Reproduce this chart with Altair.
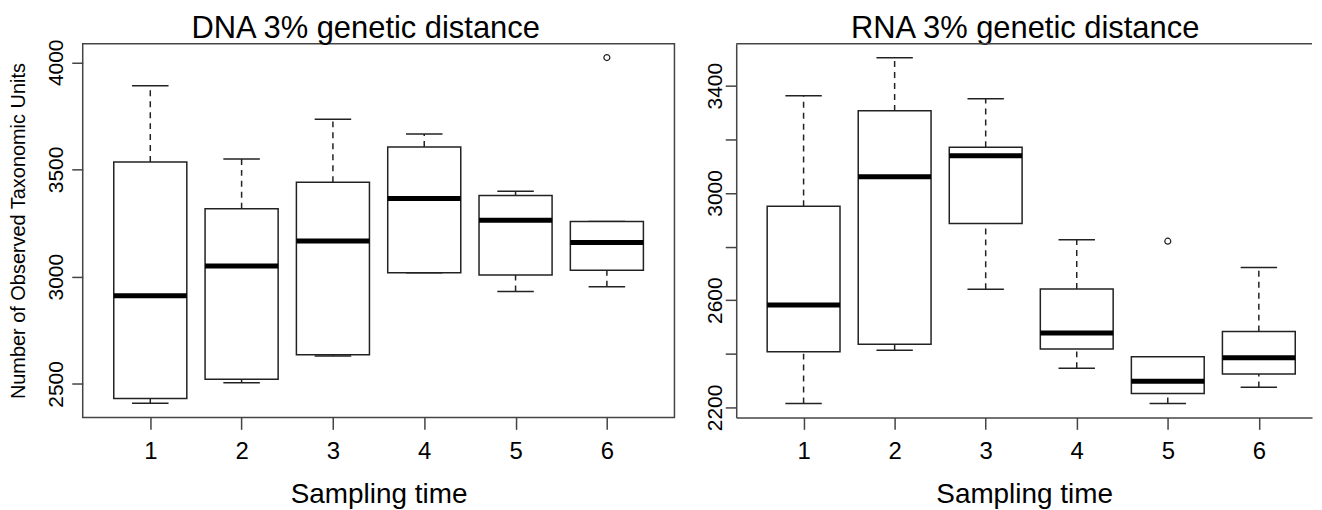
import altair as alt
import pandas as pd

# ---- data ----
times = [1, 2, 3, 4, 5, 6]

dna_whisker_low = [2410, 2506, 2630, 3019, 2931, 2953]
dna_q1 = [2432, 2522, 2636, 3019, 3008, 3030]
dna_median = [2911, 3050, 3167, 3365, 3263, 3160]
dna_q3 = [3535, 3317, 3441, 3605, 3379, 3257]
dna_whisker_high = [3890, 3549, 3734, 3666, 3399, 3257]
dna_outlier_times = [6]
dna_outlier_values = [4022]

rna_whisker_low = [2215, 2413, 2641, 2346, 2215, 2275]
rna_q1 = [2408, 2436, 2886, 2418, 2252, 2325]
rna_median = [2582, 3060, 3139, 2478, 2298, 2385]
rna_q3 = [2950, 3306, 3170, 2642, 2389, 2483]
rna_whisker_high = [3362, 3504, 3351, 2825, 2389, 2722]
rna_outlier_times = [5]
rna_outlier_values = [2820]

x_ticks = [1, 2, 3, 4, 5, 6]
dna_y_ticks = [2500, 3000, 3500, 4000]
rna_y_ticks = [2200, 2400, 2600, 2800, 3000, 3200, 3400]

dna_title = "DNA 3% genetic distance"
rna_title = "RNA 3% genetic distance"
x_title = "Sampling time"
y_title = "Number of Observed Taxonomic Units"

INK = "#222222"
FRAME = "#444444"
FONT = "Liberation Sans"
HEIGHT = 375


def make_panel(title, lows, q1s, meds, q3s, highs, out_t, out_v, y_dom, y_ticks,
               x_dom, width, ytitle, y_label_pad, title_dx, open_right, label_expr=None):
    stats = pd.DataFrame({"time": times, "lo": lows, "q1": q1s, "med": meds,
                          "q3": q3s, "hi": highs})
    outl = pd.DataFrame({"time": out_t, "value": out_v})
    xs = alt.Scale(domain=x_dom, nice=False, zero=False)
    ys = alt.Scale(domain=y_dom, nice=False, zero=False)

    x_axis = alt.Axis(values=x_ticks, format="d", tickSize=12, tickColor=FRAME,
                      tickWidth=1.5, labelFontSize=24, labelPadding=10,
                      labelColor="black", labelFlush=False, grid=False,
                      domain=open_right, domainColor=FRAME, domainWidth=1.5,
                      title=x_title, titleFontSize=28, titleFontWeight="normal",
                      titlePadding=17, titleColor="black")
    ykw = dict(values=y_ticks, format="d", labelAngle=270, labelAlign="center",
               labelBaseline="alphabetic", labelPadding=y_label_pad,
               labelFontSize=21, labelColor="black", labelOverlap=False,
               labelFlush=False, tickSize=11, tickColor=FRAME, tickWidth=1.5,
               grid=False, domain=open_right, domainColor=FRAME, domainWidth=1.5,
               title=ytitle, titleFontSize=20, titleFontWeight="normal",
               titleColor="black", titlePadding=17)
    if label_expr:
        ykw["labelExpr"] = label_expr
    y_axis = alt.Axis(**ykw)

    def X(f):
        return alt.X(f, type="quantitative", scale=xs, axis=x_axis)

    def Y(f):
        return alt.Y(f, type="quantitative", scale=ys, axis=y_axis)

    base = alt.Chart(stats).transform_calculate(
        xl="datum.time - 0.4", xr="datum.time + 0.4",
        cl="datum.time - 0.2", cr="datum.time + 0.2")

    dash = dict(strokeDash=[6, 5], color=INK, strokeWidth=1.5)
    up_wh = base.mark_rule(**dash).encode(x=X("time"), y=Y("q3"), y2="hi:Q")
    lo_wh = base.mark_rule(**dash).encode(x=X("time"), y=Y("lo"), y2="q1:Q")
    cap_hi = base.mark_rule(color=INK, strokeWidth=1.5).encode(x=X("cl"), x2="cr:Q", y=Y("hi"))
    cap_lo = base.mark_rule(color=INK, strokeWidth=1.5).encode(x=X("cl"), x2="cr:Q", y=Y("lo"))
    box = base.mark_rect(fill="white", stroke=INK, strokeWidth=1.5).encode(
        x=X("xl"), x2="xr:Q", y=Y("q1"), y2="q3:Q")
    med = base.mark_rule(color="black", strokeWidth=5).encode(x=X("xl"), x2="xr:Q", y=Y("med"))
    pts = alt.Chart(outl).mark_point(shape="circle", filled=False, color=INK,
                                     strokeWidth=1.2, size=36, opacity=1).encode(
        x=X("time"), y=Y("value"))
    ttl = alt.Chart(pd.DataFrame({"label": [title]})).mark_text(
        fontSize=31, font=FONT, color="black", align="center",
        baseline="alphabetic").encode(
        text="label:N", x=alt.value(width / 2 + title_dx), y=alt.value(-6))

    layers = [up_wh, lo_wh, cap_hi, cap_lo, box, med, pts, ttl]
    props = dict(width=width, height=HEIGHT)
    if open_right:
        top = alt.Chart(pd.DataFrame({"z": [0]})).mark_rule(
            color=FRAME, strokeWidth=1.5).encode(
            x=alt.value(0), x2=alt.value(width), y=alt.value(0))
        layers.append(top)
        props["view"] = alt.ViewBackground(stroke="transparent")
    return alt.layer(*layers).properties(**props)


left = make_panel(dna_title, dna_whisker_low, dna_q1, dna_median, dna_q3,
                  dna_whisker_high, dna_outlier_times, dna_outlier_values,
                  [2344, 4086], dna_y_ticks, [0.26, 6.74], 594, y_title, 9, -13, False)
right = make_panel(rna_title, rna_whisker_low, rna_q1, rna_median, rna_q3,
                   rna_whisker_high, rna_outlier_times, rna_outlier_values,
                   [2163, 3556], rna_y_ticks, [0.26, 6.584], 578, "", 4, 1, True,
                   label_expr="(datum.value - 2200) % 400 == 0 ? datum.label : ''")

chart = alt.hconcat(left, right, spacing=62, bounds="flush").configure(
    font=FONT, background="white",
    padding={"left": 0, "top": 3, "right": 0, "bottom": 0}
).configure_view(stroke=FRAME, strokeWidth=1.5)

chart.save("out.html", embed_options={"renderer": "svg", "actions": False})
